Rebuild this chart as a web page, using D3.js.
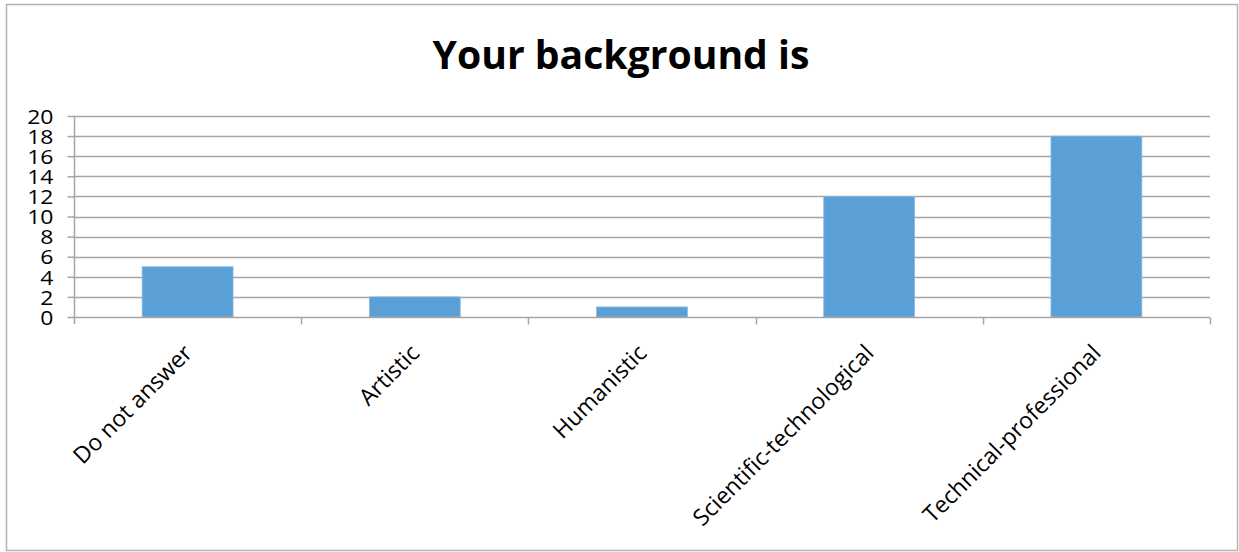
<!DOCTYPE html>
<html>
<head>
<meta charset="utf-8">
<script src="https://cdn.jsdelivr.net/npm/d3@7/dist/d3.min.js"></script>
<style>
  html, body { margin: 0; padding: 0; background: #fff; }
  svg { display: block; }
</style>
</head>
<body>
<svg id="chart" width="1239" height="552"></svg>
<script>
// Survey answers: "Your background is"
const categories = ["Do not answer", "Artistic", "Humanistic", "Scientific-technological", "Technical-professional"];
const counts = [5, 2, 1, 12, 18];
const yTicks = [0, 2, 4, 6, 8, 10, 12, 14, 16, 18, 20];
const title = "Your background is";

const W = 1239, H = 552;
const margin = { left: 74, right: 29, top: 116, bottom: 235 };
const plotW = W - margin.left - margin.right;
const plotH = H - margin.top - margin.bottom;

const svg = d3.select("#chart");
const font = "'Open Sans', 'DejaVu Sans', sans-serif";

// chart frame
svg.append("rect")
  .attr("x", 6.5).attr("y", 4.5)
  .attr("width", 1231).attr("height", 546)
  .attr("fill", "#fff")
  .attr("stroke", "#b4b4b4").attr("stroke-width", 1.5);

// title, fitted to its width
const t = svg.append("text")
  .attr("x", 621).attr("y", 69)
  .attr("text-anchor", "middle")
  .attr("font-family", font)
  .attr("font-weight", "bold")
  .attr("font-size", 36)
  .attr("fill", "#000")
  .text(title);
const tw = t.node().getComputedTextLength();
t.attr("font-size", 36 * 377 / tw);

const x = d3.scaleBand().domain(categories).range([0, plotW]).paddingInner(0.6).paddingOuter(0.3);
const band = d3.scaleBand().domain(categories).range([0, plotW]);
const y = d3.scaleLinear().domain([0, 20]).range([plotH, 0]);

const g = svg.append("g").attr("transform", `translate(${margin.left},${margin.top})`);

// horizontal gridlines
g.append("g").selectAll("line").data(yTicks.filter(d => d > 0)).join("line")
  .attr("x1", 0).attr("x2", plotW)
  .attr("y1", d => Math.round(y(d)) + 0.5).attr("y2", d => Math.round(y(d)) + 0.5)
  .attr("stroke", "#a6a6a6").attr("stroke-width", 1.5);

// bars
g.append("g").selectAll("rect").data(categories).join("rect")
  .attr("x", (d) => x(d))
  .attr("width", x.bandwidth())
  .attr("y", (d, i) => y(counts[i]))
  .attr("height", (d, i) => y(0) - y(counts[i]))
  .attr("fill", "#5b9fd7")
  .attr("stroke", "#8ab9e3").attr("stroke-width", 0.8);

// y axis
const yAxis = d3.axisLeft(y).tickValues(yTicks).tickSize(7).tickPadding(0);
const ya = g.append("g").attr("transform", "translate(0.5,0)").call(yAxis);
ya.select(".domain").attr("stroke", "#a6a6a6").attr("stroke-width", 1.5)
  .attr("d", `M0,0V${plotH + 7}`);
ya.selectAll(".tick line").attr("stroke", "#a6a6a6").attr("stroke-width", 1.5);
const sx = 1.15;
ya.selectAll(".tick text")
  .attr("font-family", font).attr("font-size", 20).attr("fill", "#000")
  .attr("x", -21 / sx)
  .attr("dy", "0.36em")
  .attr("transform", `scale(${sx},1)`);

// x axis baseline with boundary ticks
const xa = g.append("g").attr("transform", `translate(0,${plotH + 0.5})`);
xa.append("line").attr("x1", 0).attr("x2", plotW)
  .attr("stroke", "#a6a6a6").attr("stroke-width", 1.5);
const bounds = categories.map(c => band(c)).concat([plotW]);
xa.selectAll("line.tk").data(bounds.slice(1)).join("line")
  .attr("class", "tk")
  .attr("x1", d => Math.round(d) + 0.5).attr("x2", d => Math.round(d) + 0.5)
  .attr("y1", 0).attr("y2", 7)
  .attr("stroke", "#a6a6a6").attr("stroke-width", 1.5);

// rotated category labels
xa.selectAll("text").data(categories).join("text")
  .attr("text-anchor", "end")
  .attr("font-family", font).attr("font-size", 23).attr("fill", "#000")
  .attr("transform", d => `translate(${band(d) + band.bandwidth() / 2 + 6},${37}) rotate(-45)`)
  .text(d => d);
</script>
</body>
</html>
